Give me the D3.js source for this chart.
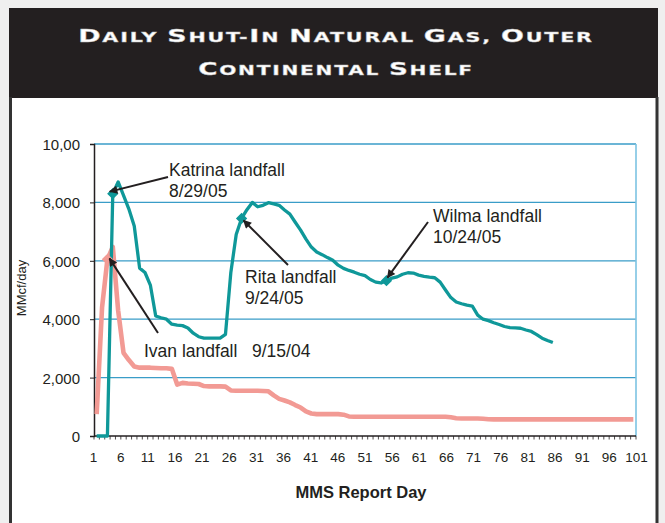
<!DOCTYPE html>
<html><head><meta charset="utf-8">
<script src="https://cdn.jsdelivr.net/npm/d3@7"></script>
<style>
html,body{margin:0;padding:0;background:#efefef;}
svg{display:block;}
</style></head>
<body>
<script>
// ---------- DATA ----------
const days = d3.range(1, 102); // MMS report days 1..101
const xTickLabels = ["1","6","11","16","21","26","31","36","41","46","51","56","61","66","71","76","81","86","91","96","101"];
const yTickValues = [0, 2000, 4000, 6000, 8000, 10000];
const yTickLabels = ["0", "2,000", "4,000", "6,000", "8,000", "10,00"];

// Hurricane Ivan 2004 (pink), days 1..101
const ivanValues = [
  750, 4400, 6050, 6480, 4300, 2850, 2600, 2380, 2340, 2340,
  2340, 2330, 2320, 2320, 2300, 1760, 1820, 1800, 1790, 1780,
  1710, 1700, 1700, 1700, 1690, 1560, 1550, 1550, 1550, 1550,
  1550, 1540, 1530, 1390, 1270, 1215, 1150, 1060, 975, 840,
  770, 750, 750, 750, 750, 750, 730, 670, 660, 660,
  660, 660, 660, 660, 660, 660, 660, 660, 660, 660,
  660, 660, 660, 660, 660, 660, 640, 610, 600, 600,
  600, 600, 590, 575, 570, 570, 570, 570, 570, 570,
  570, 570, 570, 570, 570, 570, 570, 570, 570, 570,
  570, 570, 570, 570, 570, 570, 570, 570, 570, 570,
  570
];
// Hurricanes Katrina / Rita / Wilma 2005 (teal), days 1..86
const katrinaRitaWilmaValues = [
  0, 0, 0, 8300, 8700, 8240, 7770, 7190, 5750, 5600,
  5170, 4110, 4050, 4000, 3830, 3800, 3780, 3700, 3520, 3400,
  3350, 3350, 3350, 3350, 3480, 5600, 6900, 7450, 7750, 8000,
  7850, 7900, 7990, 7950, 7900, 7740, 7600, 7320, 7050, 6740,
  6470, 6300, 6210, 6110, 6020, 5850, 5740, 5670, 5610, 5540,
  5490, 5360, 5270, 5240, 5320, 5410, 5450, 5540, 5590, 5580,
  5510, 5470, 5440, 5420, 5270, 5000, 4740, 4590, 4530, 4480,
  4450, 4140, 4000, 3950, 3880, 3820, 3750, 3710, 3700, 3690,
  3630, 3580, 3470, 3350, 3270, 3200
];
// Annotations: series, marked day, label lines
const annotations = [
  {series: "teal", day: 4,  lines: ["Katrina landfall", "8/29/05"]},
  {series: "pink", day: 3,  lines: ["Ivan landfall   9/15/04"]},
  {series: "teal", day: 28, lines: ["Rita landfall", "9/24/05"]},
  {series: "teal", day: 55, lines: ["Wilma landfall", "10/24/05"]}
];
const titleLines = ["Daily Shut-In Natural Gas, Outer", "Continental Shelf"];
const xTitle = "MMS Report Day";
const yTitle = "MMcf/day";

// ---------- LAYOUT ----------
const W = 665, H = 523;
const plot = {left: 94, right: 636, top: 144, bottom: 436};
const TEAL = "#0f9899", PINK = "#f29a94", INK = "#231f20", GRID = "#3a9dc8";
const FONT = "'Liberation Sans', Arial, Helvetica, sans-serif";

const svg = d3.select("body").append("svg").attr("width", W).attr("height", H);

// frame
svg.append("rect").attr("x", 0).attr("y", 0).attr("width", W).attr("height", H).attr("fill", "#efefef");
svg.append("rect").attr("x", 9).attr("y", 97).attr("width", 649).attr("height", H - 97).attr("fill", "#ffffff");
svg.append("rect").attr("x", 9).attr("y", 8).attr("width", 649).attr("height", 90).attr("fill", INK);
svg.append("line").attr("x1", 10.5).attr("x2", 10.5).attr("y1", 97).attr("y2", H).attr("stroke", "#333").attr("stroke-width", 3);
svg.append("line").attr("x1", 657).attr("x2", 657).attr("y1", 97).attr("y2", H).attr("stroke", "#333").attr("stroke-width", 3);

// title (small caps, extended)
function smallCaps(textSel, str, big, small) {
  const runs = [];
  for (const ch of str) {
    const isBig = ch !== ch.toLowerCase();
    if (runs.length && runs[runs.length - 1].big === isBig) runs[runs.length - 1].t += ch;
    else runs.push({big: isBig, t: ch});
  }
  runs.forEach(r => textSel.append("tspan").attr("font-size", r.big ? big : small).text(r.t.toUpperCase()));
}
const titleBaselines = [41.5, 74.5];
const titleWidths = [516, 276];
const titleCenter = 336;
titleLines.forEach((ln, i) => {
  const g = svg.append("g");
  const t = g.append("text")
    .attr("x", 0).attr("y", 0)
    .attr("text-anchor", "middle")
    .attr("font-family", "'DejaVu Sans', Verdana, sans-serif")
    .attr("font-weight", "bold")
    .attr("fill", "#ffffff")
    .attr("stroke", "#bdbdbd").attr("stroke-width", 0.4)
    .attr("letter-spacing", 1.2);
  smallCaps(t, ln, 18, 13.8);
  const w = t.node().getBBox().width;
  const sx = titleWidths[i] / w;
  g.attr("transform", `translate(${titleCenter},${titleBaselines[i]}) scale(${sx},1)`);
});

// scales
const x = d3.scalePoint().domain(days).range([plot.left, plot.right]).padding(0.5);
const xLabel = d3.scaleLinear().domain([1, 101]).range([93.5, 636.5]);
const y = d3.scaleLinear().domain([0, 10000]).range([plot.bottom, plot.top]);

// gridlines
svg.append("g").selectAll("line").data(yTickValues.filter(v => v > 0)).join("line")
  .attr("x1", plot.left).attr("x2", plot.right)
  .attr("y1", d => y(d)).attr("y2", d => y(d))
  .attr("stroke", GRID).attr("stroke-width", 1.3);
// right border of plot
svg.append("line").attr("x1", plot.right).attr("x2", plot.right)
  .attr("y1", plot.top).attr("y2", plot.bottom)
  .attr("stroke", "#7cc3e3").attr("stroke-width", 1.6);

// y axis
const yAxis = d3.axisLeft(y).tickValues(yTickValues)
  .tickFormat((d, i) => yTickLabels[i]).tickSize(4).tickPadding(10);
const gy = svg.append("g").attr("transform", `translate(${plot.left},0)`).call(yAxis);
gy.select(".domain").attr("stroke", INK).attr("stroke-width", 1.5);
gy.selectAll(".tick line").attr("stroke", INK).attr("stroke-width", 1);
gy.selectAll(".tick text").attr("font-family", FONT).attr("font-size", 15).attr("fill", INK).attr("dy", "0.36em");

// x axis: line, per-category ticks, labels
const xTickPositions = days.map(d => x(d) - x.step() / 2).concat([plot.right]);
svg.append("g").selectAll("line").data(xTickPositions).join("line")
  .attr("x1", d => d).attr("x2", d => d)
  .attr("y1", plot.bottom).attr("y2", plot.bottom + 3.5)
  .attr("stroke", INK).attr("stroke-width", 0.8);
svg.append("line").attr("x1", plot.left).attr("x2", plot.right)
  .attr("y1", plot.bottom).attr("y2", plot.bottom)
  .attr("stroke", INK).attr("stroke-width", 1.6);
svg.append("g").selectAll("text").data(xTickLabels).join("text")
  .attr("x", d => xLabel(+d)).attr("y", 462)
  .attr("text-anchor", "middle")
  .attr("font-family", FONT).attr("font-size", 13.5).attr("fill", INK)
  .text(d => d);

// axis titles
svg.append("text").attr("x", 361).attr("y", 498).attr("text-anchor", "middle")
  .attr("font-family", FONT).attr("font-weight", "bold").attr("font-size", 16.5).attr("fill", INK)
  .text(xTitle);
svg.append("text").attr("transform", "translate(26,288) rotate(-90)").attr("text-anchor", "middle")
  .attr("font-family", FONT).attr("font-size", 13).attr("fill", INK)
  .text(yTitle);

// series
const line = d3.line().x(d => x(d.day)).y(d => y(d.v));
const ivan = ivanValues.map((v, i) => ({day: days[i], v}));
const krw = katrinaRitaWilmaValues.map((v, i) => ({day: days[i], v}));
svg.append("path").datum(ivan).attr("d", line).attr("fill", "none")
  .attr("stroke", PINK).attr("stroke-width", 4.6).attr("stroke-linejoin", "round");
svg.append("path").datum(krw).attr("d", line).attr("fill", "none")
  .attr("stroke", TEAL).attr("stroke-width", 3.3).attr("stroke-linejoin", "round");

// markers
const seriesData = {teal: krw, pink: ivan};
const seriesColor = {teal: TEAL, pink: PINK};
const diamond = d3.symbol().type(d3.symbolSquare).size(42);
annotations.forEach(a => {
  const p = seriesData[a.series][a.day - 1];
  svg.append("path").attr("d", diamond())
    .attr("transform", `translate(${x(p.day)},${y(p.v)}) rotate(45)`)
    .attr("fill", seriesColor[a.series]).attr("stroke", seriesColor[a.series]).attr("stroke-width", 1.5);
});

// arrowhead
svg.append("defs").append("marker").attr("id", "arr")
  .attr("viewBox", "0 0 10 10").attr("refX", 9).attr("refY", 5)
  .attr("markerWidth", 5).attr("markerHeight", 4.2).attr("orient", "auto")
  .attr("markerUnits", "strokeWidth")
  .append("path").attr("d", "M0,0 L10,5 L0,10 Z").attr("fill", INK);

// annotation texts & arrows (positions relative to marked point)
const annLayout = [
  {tx: 169, ty: 176, ax1: 168, ay1: 177, dx: -3, dy: -2},
  {tx: 144, ty: 357, ax1: 158, ay1: 333, dx: 2, dy: -1},
  {tx: 245, ty: 283, ax1: 288, ay1: 265, dx: 2, dy: 2},
  {tx: 433, ty: 222, ax1: 428, ay1: 222, dx: 1, dy: -3}
];
annotations.forEach((a, i) => {
  const L = annLayout[i];
  const p = seriesData[a.series][a.day - 1];
  svg.append("line")
    .attr("x1", L.ax1).attr("y1", L.ay1)
    .attr("x2", x(p.day) + L.dx).attr("y2", y(p.v) + L.dy)
    .attr("stroke", INK).attr("stroke-width", 2).attr("marker-end", "url(#arr)");
  const t = svg.append("text").attr("font-family", FONT).attr("font-size", 17.5).attr("fill", INK)
    .attr("xml:space", "preserve").style("white-space", "pre");
  a.lines.forEach((s, j) => t.append("tspan").attr("x", L.tx).attr("y", L.ty + j * 20.5).text(s));
});
</script>
</body></html>
